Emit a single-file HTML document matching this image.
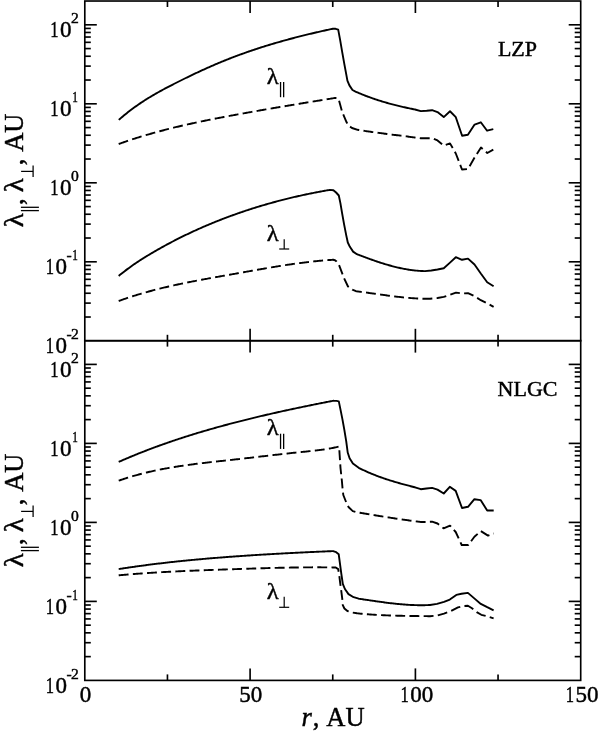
<!DOCTYPE html>
<html><head><meta charset="utf-8"><style>
html,body{margin:0;padding:0;background:#fff;}
svg{display:block;will-change:transform;}
text{font-family:"Liberation Serif",serif;fill:#000;stroke:#000;stroke-width:0.45px;}
</style></head><body>
<svg width="600" height="733" viewBox="0 0 600 733">
<rect width="600" height="733" fill="#fff"/>
<g stroke="#000" fill="none" stroke-linecap="butt">
<rect x="84.80" y="1.02" width="495.90" height="339.78" fill="none" stroke-width="1.65"/>
<rect x="84.80" y="340.62" width="495.90" height="339.78" fill="none" stroke-width="1.65"/>
<line x1="84.80" y1="317.02" x2="90.80" y2="317.02" stroke-width="1.65"/>
<line x1="580.70" y1="317.02" x2="574.70" y2="317.02" stroke-width="1.65"/>
<line x1="84.80" y1="303.11" x2="90.80" y2="303.11" stroke-width="1.65"/>
<line x1="580.70" y1="303.11" x2="574.70" y2="303.11" stroke-width="1.65"/>
<line x1="84.80" y1="293.24" x2="90.80" y2="293.24" stroke-width="1.65"/>
<line x1="580.70" y1="293.24" x2="574.70" y2="293.24" stroke-width="1.65"/>
<line x1="84.80" y1="285.58" x2="90.80" y2="285.58" stroke-width="1.65"/>
<line x1="580.70" y1="285.58" x2="574.70" y2="285.58" stroke-width="1.65"/>
<line x1="84.80" y1="279.33" x2="90.80" y2="279.33" stroke-width="1.65"/>
<line x1="580.70" y1="279.33" x2="574.70" y2="279.33" stroke-width="1.65"/>
<line x1="84.80" y1="274.04" x2="90.80" y2="274.04" stroke-width="1.65"/>
<line x1="580.70" y1="274.04" x2="574.70" y2="274.04" stroke-width="1.65"/>
<line x1="84.80" y1="269.46" x2="90.80" y2="269.46" stroke-width="1.65"/>
<line x1="580.70" y1="269.46" x2="574.70" y2="269.46" stroke-width="1.65"/>
<line x1="84.80" y1="265.41" x2="90.80" y2="265.41" stroke-width="1.65"/>
<line x1="580.70" y1="265.41" x2="574.70" y2="265.41" stroke-width="1.65"/>
<line x1="84.80" y1="261.80" x2="96.80" y2="261.80" stroke-width="1.65"/>
<line x1="580.70" y1="261.80" x2="568.70" y2="261.80" stroke-width="1.65"/>
<line x1="84.80" y1="238.02" x2="90.80" y2="238.02" stroke-width="1.65"/>
<line x1="580.70" y1="238.02" x2="574.70" y2="238.02" stroke-width="1.65"/>
<line x1="84.80" y1="224.11" x2="90.80" y2="224.11" stroke-width="1.65"/>
<line x1="580.70" y1="224.11" x2="574.70" y2="224.11" stroke-width="1.65"/>
<line x1="84.80" y1="214.24" x2="90.80" y2="214.24" stroke-width="1.65"/>
<line x1="580.70" y1="214.24" x2="574.70" y2="214.24" stroke-width="1.65"/>
<line x1="84.80" y1="206.58" x2="90.80" y2="206.58" stroke-width="1.65"/>
<line x1="580.70" y1="206.58" x2="574.70" y2="206.58" stroke-width="1.65"/>
<line x1="84.80" y1="200.33" x2="90.80" y2="200.33" stroke-width="1.65"/>
<line x1="580.70" y1="200.33" x2="574.70" y2="200.33" stroke-width="1.65"/>
<line x1="84.80" y1="195.04" x2="90.80" y2="195.04" stroke-width="1.65"/>
<line x1="580.70" y1="195.04" x2="574.70" y2="195.04" stroke-width="1.65"/>
<line x1="84.80" y1="190.46" x2="90.80" y2="190.46" stroke-width="1.65"/>
<line x1="580.70" y1="190.46" x2="574.70" y2="190.46" stroke-width="1.65"/>
<line x1="84.80" y1="186.41" x2="90.80" y2="186.41" stroke-width="1.65"/>
<line x1="580.70" y1="186.41" x2="574.70" y2="186.41" stroke-width="1.65"/>
<line x1="84.80" y1="182.80" x2="96.80" y2="182.80" stroke-width="1.65"/>
<line x1="580.70" y1="182.80" x2="568.70" y2="182.80" stroke-width="1.65"/>
<line x1="84.80" y1="159.02" x2="90.80" y2="159.02" stroke-width="1.65"/>
<line x1="580.70" y1="159.02" x2="574.70" y2="159.02" stroke-width="1.65"/>
<line x1="84.80" y1="145.11" x2="90.80" y2="145.11" stroke-width="1.65"/>
<line x1="580.70" y1="145.11" x2="574.70" y2="145.11" stroke-width="1.65"/>
<line x1="84.80" y1="135.24" x2="90.80" y2="135.24" stroke-width="1.65"/>
<line x1="580.70" y1="135.24" x2="574.70" y2="135.24" stroke-width="1.65"/>
<line x1="84.80" y1="127.58" x2="90.80" y2="127.58" stroke-width="1.65"/>
<line x1="580.70" y1="127.58" x2="574.70" y2="127.58" stroke-width="1.65"/>
<line x1="84.80" y1="121.33" x2="90.80" y2="121.33" stroke-width="1.65"/>
<line x1="580.70" y1="121.33" x2="574.70" y2="121.33" stroke-width="1.65"/>
<line x1="84.80" y1="116.04" x2="90.80" y2="116.04" stroke-width="1.65"/>
<line x1="580.70" y1="116.04" x2="574.70" y2="116.04" stroke-width="1.65"/>
<line x1="84.80" y1="111.46" x2="90.80" y2="111.46" stroke-width="1.65"/>
<line x1="580.70" y1="111.46" x2="574.70" y2="111.46" stroke-width="1.65"/>
<line x1="84.80" y1="107.41" x2="90.80" y2="107.41" stroke-width="1.65"/>
<line x1="580.70" y1="107.41" x2="574.70" y2="107.41" stroke-width="1.65"/>
<line x1="84.80" y1="103.80" x2="96.80" y2="103.80" stroke-width="1.65"/>
<line x1="580.70" y1="103.80" x2="568.70" y2="103.80" stroke-width="1.65"/>
<line x1="84.80" y1="80.02" x2="90.80" y2="80.02" stroke-width="1.65"/>
<line x1="580.70" y1="80.02" x2="574.70" y2="80.02" stroke-width="1.65"/>
<line x1="84.80" y1="66.11" x2="90.80" y2="66.11" stroke-width="1.65"/>
<line x1="580.70" y1="66.11" x2="574.70" y2="66.11" stroke-width="1.65"/>
<line x1="84.80" y1="56.24" x2="90.80" y2="56.24" stroke-width="1.65"/>
<line x1="580.70" y1="56.24" x2="574.70" y2="56.24" stroke-width="1.65"/>
<line x1="84.80" y1="48.58" x2="90.80" y2="48.58" stroke-width="1.65"/>
<line x1="580.70" y1="48.58" x2="574.70" y2="48.58" stroke-width="1.65"/>
<line x1="84.80" y1="42.33" x2="90.80" y2="42.33" stroke-width="1.65"/>
<line x1="580.70" y1="42.33" x2="574.70" y2="42.33" stroke-width="1.65"/>
<line x1="84.80" y1="37.04" x2="90.80" y2="37.04" stroke-width="1.65"/>
<line x1="580.70" y1="37.04" x2="574.70" y2="37.04" stroke-width="1.65"/>
<line x1="84.80" y1="32.46" x2="90.80" y2="32.46" stroke-width="1.65"/>
<line x1="580.70" y1="32.46" x2="574.70" y2="32.46" stroke-width="1.65"/>
<line x1="84.80" y1="28.41" x2="90.80" y2="28.41" stroke-width="1.65"/>
<line x1="580.70" y1="28.41" x2="574.70" y2="28.41" stroke-width="1.65"/>
<line x1="84.80" y1="24.80" x2="96.80" y2="24.80" stroke-width="1.65"/>
<line x1="580.70" y1="24.80" x2="568.70" y2="24.80" stroke-width="1.65"/>
<line x1="84.80" y1="656.62" x2="90.80" y2="656.62" stroke-width="1.65"/>
<line x1="580.70" y1="656.62" x2="574.70" y2="656.62" stroke-width="1.65"/>
<line x1="84.80" y1="642.71" x2="90.80" y2="642.71" stroke-width="1.65"/>
<line x1="580.70" y1="642.71" x2="574.70" y2="642.71" stroke-width="1.65"/>
<line x1="84.80" y1="632.84" x2="90.80" y2="632.84" stroke-width="1.65"/>
<line x1="580.70" y1="632.84" x2="574.70" y2="632.84" stroke-width="1.65"/>
<line x1="84.80" y1="625.18" x2="90.80" y2="625.18" stroke-width="1.65"/>
<line x1="580.70" y1="625.18" x2="574.70" y2="625.18" stroke-width="1.65"/>
<line x1="84.80" y1="618.93" x2="90.80" y2="618.93" stroke-width="1.65"/>
<line x1="580.70" y1="618.93" x2="574.70" y2="618.93" stroke-width="1.65"/>
<line x1="84.80" y1="613.64" x2="90.80" y2="613.64" stroke-width="1.65"/>
<line x1="580.70" y1="613.64" x2="574.70" y2="613.64" stroke-width="1.65"/>
<line x1="84.80" y1="609.06" x2="90.80" y2="609.06" stroke-width="1.65"/>
<line x1="580.70" y1="609.06" x2="574.70" y2="609.06" stroke-width="1.65"/>
<line x1="84.80" y1="605.01" x2="90.80" y2="605.01" stroke-width="1.65"/>
<line x1="580.70" y1="605.01" x2="574.70" y2="605.01" stroke-width="1.65"/>
<line x1="84.80" y1="601.40" x2="96.80" y2="601.40" stroke-width="1.65"/>
<line x1="580.70" y1="601.40" x2="568.70" y2="601.40" stroke-width="1.65"/>
<line x1="84.80" y1="577.62" x2="90.80" y2="577.62" stroke-width="1.65"/>
<line x1="580.70" y1="577.62" x2="574.70" y2="577.62" stroke-width="1.65"/>
<line x1="84.80" y1="563.71" x2="90.80" y2="563.71" stroke-width="1.65"/>
<line x1="580.70" y1="563.71" x2="574.70" y2="563.71" stroke-width="1.65"/>
<line x1="84.80" y1="553.84" x2="90.80" y2="553.84" stroke-width="1.65"/>
<line x1="580.70" y1="553.84" x2="574.70" y2="553.84" stroke-width="1.65"/>
<line x1="84.80" y1="546.18" x2="90.80" y2="546.18" stroke-width="1.65"/>
<line x1="580.70" y1="546.18" x2="574.70" y2="546.18" stroke-width="1.65"/>
<line x1="84.80" y1="539.93" x2="90.80" y2="539.93" stroke-width="1.65"/>
<line x1="580.70" y1="539.93" x2="574.70" y2="539.93" stroke-width="1.65"/>
<line x1="84.80" y1="534.64" x2="90.80" y2="534.64" stroke-width="1.65"/>
<line x1="580.70" y1="534.64" x2="574.70" y2="534.64" stroke-width="1.65"/>
<line x1="84.80" y1="530.06" x2="90.80" y2="530.06" stroke-width="1.65"/>
<line x1="580.70" y1="530.06" x2="574.70" y2="530.06" stroke-width="1.65"/>
<line x1="84.80" y1="526.01" x2="90.80" y2="526.01" stroke-width="1.65"/>
<line x1="580.70" y1="526.01" x2="574.70" y2="526.01" stroke-width="1.65"/>
<line x1="84.80" y1="522.40" x2="96.80" y2="522.40" stroke-width="1.65"/>
<line x1="580.70" y1="522.40" x2="568.70" y2="522.40" stroke-width="1.65"/>
<line x1="84.80" y1="498.62" x2="90.80" y2="498.62" stroke-width="1.65"/>
<line x1="580.70" y1="498.62" x2="574.70" y2="498.62" stroke-width="1.65"/>
<line x1="84.80" y1="484.71" x2="90.80" y2="484.71" stroke-width="1.65"/>
<line x1="580.70" y1="484.71" x2="574.70" y2="484.71" stroke-width="1.65"/>
<line x1="84.80" y1="474.84" x2="90.80" y2="474.84" stroke-width="1.65"/>
<line x1="580.70" y1="474.84" x2="574.70" y2="474.84" stroke-width="1.65"/>
<line x1="84.80" y1="467.18" x2="90.80" y2="467.18" stroke-width="1.65"/>
<line x1="580.70" y1="467.18" x2="574.70" y2="467.18" stroke-width="1.65"/>
<line x1="84.80" y1="460.93" x2="90.80" y2="460.93" stroke-width="1.65"/>
<line x1="580.70" y1="460.93" x2="574.70" y2="460.93" stroke-width="1.65"/>
<line x1="84.80" y1="455.64" x2="90.80" y2="455.64" stroke-width="1.65"/>
<line x1="580.70" y1="455.64" x2="574.70" y2="455.64" stroke-width="1.65"/>
<line x1="84.80" y1="451.06" x2="90.80" y2="451.06" stroke-width="1.65"/>
<line x1="580.70" y1="451.06" x2="574.70" y2="451.06" stroke-width="1.65"/>
<line x1="84.80" y1="447.01" x2="90.80" y2="447.01" stroke-width="1.65"/>
<line x1="580.70" y1="447.01" x2="574.70" y2="447.01" stroke-width="1.65"/>
<line x1="84.80" y1="443.40" x2="96.80" y2="443.40" stroke-width="1.65"/>
<line x1="580.70" y1="443.40" x2="568.70" y2="443.40" stroke-width="1.65"/>
<line x1="84.80" y1="419.62" x2="90.80" y2="419.62" stroke-width="1.65"/>
<line x1="580.70" y1="419.62" x2="574.70" y2="419.62" stroke-width="1.65"/>
<line x1="84.80" y1="405.71" x2="90.80" y2="405.71" stroke-width="1.65"/>
<line x1="580.70" y1="405.71" x2="574.70" y2="405.71" stroke-width="1.65"/>
<line x1="84.80" y1="395.84" x2="90.80" y2="395.84" stroke-width="1.65"/>
<line x1="580.70" y1="395.84" x2="574.70" y2="395.84" stroke-width="1.65"/>
<line x1="84.80" y1="388.18" x2="90.80" y2="388.18" stroke-width="1.65"/>
<line x1="580.70" y1="388.18" x2="574.70" y2="388.18" stroke-width="1.65"/>
<line x1="84.80" y1="381.93" x2="90.80" y2="381.93" stroke-width="1.65"/>
<line x1="580.70" y1="381.93" x2="574.70" y2="381.93" stroke-width="1.65"/>
<line x1="84.80" y1="376.64" x2="90.80" y2="376.64" stroke-width="1.65"/>
<line x1="580.70" y1="376.64" x2="574.70" y2="376.64" stroke-width="1.65"/>
<line x1="84.80" y1="372.06" x2="90.80" y2="372.06" stroke-width="1.65"/>
<line x1="580.70" y1="372.06" x2="574.70" y2="372.06" stroke-width="1.65"/>
<line x1="84.80" y1="368.01" x2="90.80" y2="368.01" stroke-width="1.65"/>
<line x1="580.70" y1="368.01" x2="574.70" y2="368.01" stroke-width="1.65"/>
<line x1="84.80" y1="364.40" x2="96.80" y2="364.40" stroke-width="1.65"/>
<line x1="580.70" y1="364.40" x2="568.70" y2="364.40" stroke-width="1.65"/>
<line x1="167.45" y1="1.02" x2="167.45" y2="7.02" stroke-width="1.65"/>
<line x1="167.45" y1="340.80" x2="167.45" y2="334.80" stroke-width="1.65"/>
<line x1="250.10" y1="1.02" x2="250.10" y2="13.02" stroke-width="1.65"/>
<line x1="250.10" y1="340.80" x2="250.10" y2="328.80" stroke-width="1.65"/>
<line x1="332.75" y1="1.02" x2="332.75" y2="7.02" stroke-width="1.65"/>
<line x1="332.75" y1="340.80" x2="332.75" y2="334.80" stroke-width="1.65"/>
<line x1="415.40" y1="1.02" x2="415.40" y2="13.02" stroke-width="1.65"/>
<line x1="415.40" y1="340.80" x2="415.40" y2="328.80" stroke-width="1.65"/>
<line x1="498.05" y1="1.02" x2="498.05" y2="7.02" stroke-width="1.65"/>
<line x1="498.05" y1="340.80" x2="498.05" y2="334.80" stroke-width="1.65"/>
<line x1="167.45" y1="340.62" x2="167.45" y2="346.62" stroke-width="1.65"/>
<line x1="167.45" y1="680.40" x2="167.45" y2="674.40" stroke-width="1.65"/>
<line x1="250.10" y1="340.62" x2="250.10" y2="352.62" stroke-width="1.65"/>
<line x1="250.10" y1="680.40" x2="250.10" y2="668.40" stroke-width="1.65"/>
<line x1="332.75" y1="340.62" x2="332.75" y2="346.62" stroke-width="1.65"/>
<line x1="332.75" y1="680.40" x2="332.75" y2="674.40" stroke-width="1.65"/>
<line x1="415.40" y1="340.62" x2="415.40" y2="352.62" stroke-width="1.65"/>
<line x1="415.40" y1="680.40" x2="415.40" y2="668.40" stroke-width="1.65"/>
<line x1="498.05" y1="340.62" x2="498.05" y2="346.62" stroke-width="1.65"/>
<line x1="498.05" y1="680.40" x2="498.05" y2="674.40" stroke-width="1.65"/>
<path d="M118.80,119.89 L119.80,119.01 L120.80,118.14 L121.80,117.28 L122.80,116.43 L123.80,115.59 L124.80,114.77 L125.80,113.95 L126.80,113.15 L127.80,112.36 L128.80,111.57 L129.80,110.80 L130.80,110.04 L131.80,109.28 L132.80,108.54 L133.80,107.81 L134.80,107.08 L135.80,106.36 L136.80,105.66 L137.80,104.96 L138.80,104.27 L139.80,103.59 L140.80,102.91 L141.80,102.25 L142.80,101.59 L143.80,100.94 L144.80,100.30 L145.80,99.66 L146.80,99.03 L147.80,98.41 L148.80,97.80 L149.80,97.19 L150.80,96.58 L151.80,95.99 L152.80,95.40 L153.80,94.81 L154.80,94.23 L155.80,93.66 L156.80,93.09 L157.80,92.52 L158.80,91.96 L159.80,91.41 L160.80,90.86 L161.80,90.31 L162.80,89.77 L163.80,89.23 L164.80,88.70 L165.80,88.17 L166.80,87.64 L167.80,87.11 L168.80,86.59 L169.80,86.07 L170.80,85.56 L171.80,85.04 L172.80,84.53 L173.80,84.02 L174.80,83.51 L175.80,83.00 L176.80,82.50 L177.80,81.99 L178.80,81.49 L179.80,80.99 L180.80,80.49 L181.80,79.99 L182.80,79.50 L183.80,79.00 L184.80,78.51 L185.80,78.02 L186.80,77.53 L187.80,77.05 L188.80,76.56 L189.80,76.08 L190.80,75.60 L191.80,75.12 L192.80,74.64 L193.80,74.17 L194.80,73.69 L195.80,73.22 L196.80,72.75 L197.80,72.28 L198.80,71.82 L199.80,71.35 L200.80,70.89 L201.80,70.43 L202.80,69.98 L203.80,69.52 L204.80,69.07 L205.80,68.62 L206.80,68.17 L207.80,67.72 L208.80,67.28 L209.80,66.84 L210.80,66.40 L211.80,65.96 L212.80,65.53 L213.80,65.09 L214.80,64.66 L215.80,64.24 L216.80,63.81 L217.80,63.39 L218.80,62.97 L219.80,62.55 L220.80,62.13 L221.80,61.72 L222.80,61.31 L223.80,60.90 L224.80,60.50 L225.80,60.09 L226.80,59.69 L227.80,59.30 L228.80,58.90 L229.80,58.51 L230.80,58.12 L231.80,57.73 L232.80,57.35 L233.80,56.97 L234.80,56.59 L235.80,56.21 L236.80,55.83 L237.80,55.46 L238.80,55.09 L239.80,54.72 L240.80,54.36 L241.80,53.99 L242.80,53.63 L243.80,53.28 L244.80,52.92 L245.80,52.57 L246.80,52.21 L247.80,51.86 L248.80,51.52 L249.80,51.17 L250.80,50.83 L251.80,50.49 L252.80,50.15 L253.80,49.82 L254.80,49.48 L255.80,49.15 L256.80,48.82 L257.80,48.49 L258.80,48.17 L259.80,47.84 L260.80,47.52 L261.80,47.20 L262.80,46.89 L263.80,46.57 L264.80,46.26 L265.80,45.95 L266.80,45.64 L267.80,45.33 L268.80,45.02 L269.80,44.72 L270.80,44.42 L271.80,44.12 L272.80,43.82 L273.80,43.52 L274.80,43.23 L275.80,42.94 L276.80,42.65 L277.80,42.36 L278.80,42.07 L279.80,41.79 L280.80,41.50 L281.80,41.22 L282.80,40.94 L283.80,40.66 L284.80,40.38 L285.80,40.11 L286.80,39.83 L287.80,39.56 L288.80,39.29 L289.80,39.02 L290.80,38.76 L291.80,38.49 L292.80,38.23 L293.80,37.96 L294.80,37.70 L295.80,37.44 L296.80,37.18 L297.80,36.93 L298.80,36.67 L299.80,36.42 L300.80,36.16 L301.80,35.91 L302.80,35.66 L303.80,35.42 L304.80,35.17 L305.80,34.92 L306.80,34.68 L307.80,34.43 L308.80,34.19 L309.80,33.95 L310.80,33.71 L311.80,33.47 L312.80,33.24 L313.80,33.00 L314.80,32.77 L315.80,32.53 L316.80,32.30 L317.80,32.07 L318.80,31.84 L319.80,31.61 L320.80,31.38 L321.80,31.16 L322.80,30.93 L323.80,30.71 L324.80,30.48 L325.80,30.26 L326.80,30.04 L327.80,29.82 L328.80,29.60 L329.80,29.38 L330.80,29.16 L331.80,28.95 L332.80,28.73 L333.40,28.60 L333.40,28.60 L335.60,28.80 L338.20,29.70 L340.20,40.40 L342.30,52.60 L344.30,63.90 L346.40,75.20 L347.40,80.60 L349.40,85.40 L352.50,90.00 L355.50,91.60 L355.50,91.60 L356.50,92.04 L357.50,92.47 L358.50,92.90 L359.50,93.32 L360.50,93.74 L361.50,94.15 L362.50,94.56 L363.50,94.95 L364.50,95.35 L365.50,95.74 L366.50,96.12 L367.50,96.50 L368.50,96.87 L369.50,97.23 L370.50,97.60 L371.50,97.95 L372.50,98.30 L373.50,98.65 L374.50,98.99 L375.50,99.33 L376.50,99.66 L377.50,99.99 L378.50,100.31 L379.50,100.63 L380.50,100.94 L381.50,101.25 L382.50,101.55 L383.50,101.86 L384.50,102.15 L385.50,102.44 L386.50,102.73 L387.50,103.02 L388.50,103.30 L389.50,103.57 L390.50,103.84 L391.50,104.11 L392.50,104.38 L393.50,104.64 L394.50,104.90 L395.50,105.15 L396.50,105.40 L397.50,105.65 L398.50,105.89 L399.50,106.13 L400.50,106.37 L401.50,106.61 L402.50,106.84 L403.50,107.07 L404.50,107.29 L405.50,107.51 L406.50,107.73 L407.50,107.95 L408.50,108.17 L409.50,108.38 L410.50,108.59 L411.50,108.80 L412.50,109.00 L413.50,109.20 L414.50,109.40 L415.00,109.50 L415.00,109.50 L420.80,111.10 L426.70,110.80 L432.10,110.20 L437.50,112.10 L443.75,117.10 L450.00,111.25 L455.80,117.20 L462.10,135.80 L467.90,134.80 L474.60,124.60 L480.80,122.30 L487.10,130.70 L493.30,129.20" stroke-width="1.9" stroke-linejoin="round"/>
<path d="M118.70,275.90 L119.70,275.08 L120.70,274.27 L121.70,273.47 L122.70,272.69 L123.70,271.91 L124.70,271.14 L125.70,270.38 L126.70,269.62 L127.70,268.88 L128.70,268.15 L129.70,267.42 L130.70,266.70 L131.70,265.99 L132.70,265.29 L133.70,264.59 L134.70,263.91 L135.70,263.22 L136.70,262.55 L137.70,261.88 L138.70,261.22 L139.70,260.57 L140.70,259.92 L141.70,259.28 L142.70,258.64 L143.70,258.01 L144.70,257.39 L145.70,256.77 L146.70,256.16 L147.70,255.55 L148.70,254.94 L149.70,254.34 L150.70,253.75 L151.70,253.15 L152.70,252.57 L153.70,251.98 L154.70,251.40 L155.70,250.82 L156.70,250.25 L157.70,249.68 L158.70,249.11 L159.70,248.55 L160.70,247.99 L161.70,247.43 L162.70,246.88 L163.70,246.32 L164.70,245.78 L165.70,245.23 L166.70,244.69 L167.70,244.15 L168.70,243.62 L169.70,243.08 L170.70,242.55 L171.70,242.03 L172.70,241.50 L173.70,240.98 L174.70,240.47 L175.70,239.95 L176.70,239.44 L177.70,238.94 L178.70,238.43 L179.70,237.93 L180.70,237.43 L181.70,236.93 L182.70,236.44 L183.70,235.95 L184.70,235.46 L185.70,234.98 L186.70,234.50 L187.70,234.02 L188.70,233.54 L189.70,233.07 L190.70,232.60 L191.70,232.13 L192.70,231.67 L193.70,231.21 L194.70,230.75 L195.70,230.29 L196.70,229.84 L197.70,229.39 L198.70,228.94 L199.70,228.50 L200.70,228.05 L201.70,227.61 L202.70,227.18 L203.70,226.74 L204.70,226.31 L205.70,225.88 L206.70,225.46 L207.70,225.03 L208.70,224.61 L209.70,224.19 L210.70,223.78 L211.70,223.36 L212.70,222.95 L213.70,222.54 L214.70,222.14 L215.70,221.73 L216.70,221.33 L217.70,220.93 L218.70,220.54 L219.70,220.14 L220.70,219.75 L221.70,219.36 L222.70,218.97 L223.70,218.59 L224.70,218.21 L225.70,217.83 L226.70,217.45 L227.70,217.08 L228.70,216.70 L229.70,216.33 L230.70,215.97 L231.70,215.60 L232.70,215.24 L233.70,214.88 L234.70,214.52 L235.70,214.16 L236.70,213.81 L237.70,213.46 L238.70,213.11 L239.70,212.76 L240.70,212.41 L241.70,212.07 L242.70,211.73 L243.70,211.39 L244.70,211.06 L245.70,210.72 L246.70,210.39 L247.70,210.06 L248.70,209.74 L249.70,209.41 L250.70,209.09 L251.70,208.77 L252.70,208.45 L253.70,208.13 L254.70,207.82 L255.70,207.51 L256.70,207.20 L257.70,206.89 L258.70,206.59 L259.70,206.28 L260.70,205.98 L261.70,205.68 L262.70,205.39 L263.70,205.09 L264.70,204.80 L265.70,204.51 L266.70,204.22 L267.70,203.93 L268.70,203.65 L269.70,203.37 L270.70,203.09 L271.70,202.81 L272.70,202.53 L273.70,202.26 L274.70,201.99 L275.70,201.72 L276.70,201.45 L277.70,201.18 L278.70,200.92 L279.70,200.65 L280.70,200.39 L281.70,200.14 L282.70,199.88 L283.70,199.62 L284.70,199.37 L285.70,199.12 L286.70,198.87 L287.70,198.63 L288.70,198.38 L289.70,198.14 L290.70,197.90 L291.70,197.66 L292.70,197.42 L293.70,197.19 L294.70,196.95 L295.70,196.72 L296.70,196.49 L297.70,196.26 L298.70,196.04 L299.70,195.81 L300.70,195.59 L301.70,195.37 L302.70,195.15 L303.70,194.93 L304.70,194.72 L305.70,194.50 L306.70,194.29 L307.70,194.08 L308.70,193.87 L309.70,193.67 L310.70,193.46 L311.70,193.26 L312.70,193.06 L313.70,192.86 L314.70,192.66 L315.70,192.47 L316.70,192.27 L317.70,192.08 L318.70,191.89 L319.70,191.70 L320.70,191.51 L321.70,191.32 L322.70,191.14 L323.70,190.96 L324.70,190.78 L325.70,190.60 L326.70,190.42 L327.70,190.24 L328.70,190.07 L329.70,189.90 L329.70,189.90 L333.40,190.20 L336.10,192.50 L338.80,195.50 L340.40,203.10 L342.00,212.70 L344.10,224.40 L346.20,235.10 L347.80,242.50 L349.90,246.80 L353.10,251.60 L356.90,254.20 L356.90,254.20 L357.90,254.58 L358.90,254.97 L359.90,255.35 L360.90,255.73 L361.90,256.10 L362.90,256.48 L363.90,256.85 L364.90,257.22 L365.90,257.59 L366.90,257.96 L367.90,258.33 L368.90,258.69 L369.90,259.05 L370.90,259.41 L371.90,259.76 L372.90,260.11 L373.90,260.46 L374.90,260.80 L375.90,261.15 L376.90,261.48 L377.90,261.82 L378.90,262.15 L379.90,262.48 L380.90,262.80 L381.90,263.12 L382.90,263.43 L383.90,263.74 L384.90,264.05 L385.90,264.35 L386.90,264.64 L387.90,264.93 L388.90,265.22 L389.90,265.50 L390.90,265.78 L391.90,266.05 L392.90,266.31 L393.90,266.57 L394.90,266.82 L395.90,267.07 L396.90,267.31 L397.90,267.55 L398.90,267.77 L399.90,268.00 L400.90,268.21 L401.90,268.42 L402.90,268.62 L403.90,268.82 L404.90,269.01 L405.90,269.19 L406.90,269.36 L407.90,269.53 L408.90,269.69 L409.90,269.84 L410.90,269.98 L411.90,270.12 L412.90,270.25 L413.90,270.37 L414.90,270.48 L415.90,270.58 L416.90,270.67 L417.90,270.76 L418.90,270.84 L419.90,270.90 L420.90,270.96 L421.90,271.01 L422.90,271.05 L423.90,271.08 L424.90,271.10 L425.00,271.10 L425.00,271.10 L431.30,270.50 L437.50,269.50 L443.75,268.20 L450.00,262.60 L455.80,257.20 L462.00,259.80 L468.00,258.60 L474.50,264.50 L480.80,273.50 L487.20,282.20 L493.60,286.30" stroke-width="1.9" stroke-linejoin="round"/>
<path d="M118.70,461.89 L119.70,461.45 L120.70,461.01 L121.70,460.58 L122.70,460.14 L123.70,459.71 L124.70,459.28 L125.70,458.85 L126.70,458.43 L127.70,458.01 L128.70,457.59 L129.70,457.17 L130.70,456.75 L131.70,456.34 L132.70,455.92 L133.70,455.51 L134.70,455.10 L135.70,454.70 L136.70,454.29 L137.70,453.89 L138.70,453.49 L139.70,453.09 L140.70,452.69 L141.70,452.30 L142.70,451.91 L143.70,451.52 L144.70,451.13 L145.70,450.74 L146.70,450.35 L147.70,449.97 L148.70,449.59 L149.70,449.21 L150.70,448.83 L151.70,448.46 L152.70,448.08 L153.70,447.71 L154.70,447.34 L155.70,446.97 L156.70,446.60 L157.70,446.24 L158.70,445.87 L159.70,445.51 L160.70,445.15 L161.70,444.79 L162.70,444.44 L163.70,444.08 L164.70,443.73 L165.70,443.38 L166.70,443.03 L167.70,442.68 L168.70,442.33 L169.70,441.99 L170.70,441.65 L171.70,441.31 L172.70,440.97 L173.70,440.63 L174.70,440.29 L175.70,439.96 L176.70,439.62 L177.70,439.29 L178.70,438.96 L179.70,438.63 L180.70,438.30 L181.70,437.98 L182.70,437.65 L183.70,437.33 L184.70,437.01 L185.70,436.69 L186.70,436.37 L187.70,436.05 L188.70,435.74 L189.70,435.42 L190.70,435.11 L191.70,434.80 L192.70,434.49 L193.70,434.18 L194.70,433.88 L195.70,433.57 L196.70,433.27 L197.70,432.96 L198.70,432.66 L199.70,432.36 L200.70,432.06 L201.70,431.77 L202.70,431.47 L203.70,431.17 L204.70,430.88 L205.70,430.59 L206.70,430.30 L207.70,430.01 L208.70,429.72 L209.70,429.43 L210.70,429.15 L211.70,428.86 L212.70,428.58 L213.70,428.29 L214.70,428.01 L215.70,427.73 L216.70,427.45 L217.70,427.18 L218.70,426.90 L219.70,426.62 L220.70,426.35 L221.70,426.08 L222.70,425.80 L223.70,425.53 L224.70,425.26 L225.70,424.99 L226.70,424.72 L227.70,424.46 L228.70,424.19 L229.70,423.93 L230.70,423.66 L231.70,423.40 L232.70,423.14 L233.70,422.88 L234.70,422.62 L235.70,422.36 L236.70,422.10 L237.70,421.84 L238.70,421.59 L239.70,421.33 L240.70,421.08 L241.70,420.82 L242.70,420.57 L243.70,420.32 L244.70,420.07 L245.70,419.82 L246.70,419.57 L247.70,419.32 L248.70,419.08 L249.70,418.83 L250.70,418.59 L251.70,418.34 L252.70,418.10 L253.70,417.86 L254.70,417.61 L255.70,417.37 L256.70,417.13 L257.70,416.89 L258.70,416.65 L259.70,416.42 L260.70,416.18 L261.70,415.94 L262.70,415.71 L263.70,415.47 L264.70,415.24 L265.70,415.01 L266.70,414.78 L267.70,414.54 L268.70,414.31 L269.70,414.08 L270.70,413.86 L271.70,413.63 L272.70,413.40 L273.70,413.17 L274.70,412.95 L275.70,412.72 L276.70,412.50 L277.70,412.27 L278.70,412.05 L279.70,411.83 L280.70,411.61 L281.70,411.38 L282.70,411.16 L283.70,410.94 L284.70,410.73 L285.70,410.51 L286.70,410.29 L287.70,410.07 L288.70,409.86 L289.70,409.64 L290.70,409.42 L291.70,409.21 L292.70,409.00 L293.70,408.78 L294.70,408.57 L295.70,408.36 L296.70,408.15 L297.70,407.94 L298.70,407.73 L299.70,407.52 L300.70,407.31 L301.70,407.10 L302.70,406.89 L303.70,406.68 L304.70,406.48 L305.70,406.27 L306.70,406.06 L307.70,405.86 L308.70,405.65 L309.70,405.45 L310.70,405.25 L311.70,405.04 L312.70,404.84 L313.70,404.64 L314.70,404.44 L315.70,404.24 L316.70,404.03 L317.70,403.83 L318.70,403.63 L319.70,403.44 L320.70,403.24 L321.70,403.04 L322.70,402.84 L323.70,402.64 L324.70,402.45 L325.70,402.25 L326.70,402.05 L327.70,401.86 L328.70,401.66 L329.70,401.47 L330.70,401.27 L331.70,401.08 L332.70,400.88 L333.70,400.69 L333.70,400.70 L336.50,400.90 L338.80,401.40 L340.50,409.60 L342.40,419.10 L344.30,429.60 L346.20,441.10 L347.70,452.50 L349.60,458.30 L352.90,463.50 L358.70,467.80 L358.70,467.80 L359.70,468.31 L360.70,468.81 L361.70,469.30 L362.70,469.78 L363.70,470.25 L364.70,470.72 L365.70,471.18 L366.70,471.63 L367.70,472.07 L368.70,472.51 L369.70,472.94 L370.70,473.36 L371.70,473.78 L372.70,474.19 L373.70,474.59 L374.70,474.99 L375.70,475.38 L376.70,475.77 L377.70,476.15 L378.70,476.52 L379.70,476.89 L380.70,477.25 L381.70,477.61 L382.70,477.96 L383.70,478.30 L384.70,478.65 L385.70,478.98 L386.70,479.31 L387.70,479.64 L388.70,479.96 L389.70,480.28 L390.70,480.60 L391.70,480.91 L392.70,481.21 L393.70,481.52 L394.70,481.81 L395.70,482.11 L396.70,482.40 L397.70,482.69 L398.70,482.98 L399.70,483.26 L400.70,483.54 L401.70,483.81 L402.70,484.09 L403.70,484.36 L404.70,484.63 L405.70,484.90 L406.70,485.16 L407.70,485.43 L408.70,485.69 L409.70,485.95 L410.70,486.21 L411.70,486.46 L412.70,486.72 L413.70,486.97 L414.70,487.23 L415.00,487.30 L415.00,487.30 L420.80,489.20 L426.50,488.50 L432.10,487.90 L437.50,489.60 L443.75,493.50 L449.80,486.80 L455.70,490.90 L462.00,508.00 L468.00,506.80 L474.40,499.20 L480.60,500.10 L487.20,510.50 L493.70,510.50" stroke-width="1.9" stroke-linejoin="round"/>
<path d="M118.70,569.09 L119.70,568.93 L120.70,568.78 L121.70,568.62 L122.70,568.47 L123.70,568.31 L124.70,568.16 L125.70,568.01 L126.70,567.86 L127.70,567.71 L128.70,567.56 L129.70,567.41 L130.70,567.27 L131.70,567.12 L132.70,566.98 L133.70,566.84 L134.70,566.69 L135.70,566.55 L136.70,566.41 L137.70,566.27 L138.70,566.13 L139.70,566.00 L140.70,565.86 L141.70,565.72 L142.70,565.59 L143.70,565.45 L144.70,565.32 L145.70,565.19 L146.70,565.06 L147.70,564.93 L148.70,564.80 L149.70,564.67 L150.70,564.54 L151.70,564.42 L152.70,564.29 L153.70,564.17 L154.70,564.04 L155.70,563.92 L156.70,563.80 L157.70,563.68 L158.70,563.55 L159.70,563.44 L160.70,563.32 L161.70,563.20 L162.70,563.08 L163.70,562.96 L164.70,562.85 L165.70,562.73 L166.70,562.62 L167.70,562.51 L168.70,562.39 L169.70,562.28 L170.70,562.17 L171.70,562.06 L172.70,561.95 L173.70,561.84 L174.70,561.74 L175.70,561.63 L176.70,561.52 L177.70,561.42 L178.70,561.31 L179.70,561.21 L180.70,561.11 L181.70,561.00 L182.70,560.90 L183.70,560.80 L184.70,560.70 L185.70,560.60 L186.70,560.50 L187.70,560.40 L188.70,560.30 L189.70,560.21 L190.70,560.11 L191.70,560.01 L192.70,559.92 L193.70,559.83 L194.70,559.73 L195.70,559.64 L196.70,559.55 L197.70,559.45 L198.70,559.36 L199.70,559.27 L200.70,559.18 L201.70,559.09 L202.70,559.01 L203.70,558.92 L204.70,558.83 L205.70,558.74 L206.70,558.66 L207.70,558.57 L208.70,558.49 L209.70,558.40 L210.70,558.32 L211.70,558.23 L212.70,558.15 L213.70,558.07 L214.70,557.99 L215.70,557.91 L216.70,557.83 L217.70,557.75 L218.70,557.67 L219.70,557.59 L220.70,557.51 L221.70,557.43 L222.70,557.35 L223.70,557.28 L224.70,557.20 L225.70,557.12 L226.70,557.05 L227.70,556.97 L228.70,556.90 L229.70,556.82 L230.70,556.75 L231.70,556.68 L232.70,556.60 L233.70,556.53 L234.70,556.46 L235.70,556.39 L236.70,556.32 L237.70,556.25 L238.70,556.18 L239.70,556.11 L240.70,556.04 L241.70,555.97 L242.70,555.90 L243.70,555.83 L244.70,555.76 L245.70,555.70 L246.70,555.63 L247.70,555.56 L248.70,555.50 L249.70,555.43 L250.70,555.37 L251.70,555.30 L252.70,555.24 L253.70,555.17 L254.70,555.11 L255.70,555.05 L256.70,554.98 L257.70,554.92 L258.70,554.86 L259.70,554.80 L260.70,554.73 L261.70,554.67 L262.70,554.61 L263.70,554.55 L264.70,554.49 L265.70,554.43 L266.70,554.37 L267.70,554.31 L268.70,554.26 L269.70,554.20 L270.70,554.14 L271.70,554.08 L272.70,554.03 L273.70,553.97 L274.70,553.91 L275.70,553.86 L276.70,553.80 L277.70,553.74 L278.70,553.69 L279.70,553.63 L280.70,553.58 L281.70,553.52 L282.70,553.47 L283.70,553.42 L284.70,553.36 L285.70,553.31 L286.70,553.26 L287.70,553.21 L288.70,553.15 L289.70,553.10 L290.70,553.05 L291.70,553.00 L292.70,552.95 L293.70,552.90 L294.70,552.85 L295.70,552.80 L296.70,552.75 L297.70,552.70 L298.70,552.65 L299.70,552.60 L300.70,552.55 L301.70,552.50 L302.70,552.45 L303.70,552.40 L304.70,552.36 L305.70,552.31 L306.70,552.26 L307.70,552.21 L308.70,552.17 L309.70,552.12 L310.70,552.07 L311.70,552.03 L312.70,551.98 L313.70,551.94 L314.70,551.89 L315.70,551.84 L316.70,551.80 L317.70,551.75 L318.70,551.71 L319.70,551.67 L320.70,551.62 L321.70,551.58 L322.70,551.53 L323.70,551.49 L324.70,551.45 L325.70,551.40 L326.70,551.36 L327.70,551.32 L328.70,551.28 L329.70,551.23 L330.70,551.19 L331.70,551.15 L332.70,551.11 L333.10,551.09 L333.10,551.10 L336.20,552.20 L338.70,554.20 L339.80,562.40 L341.30,573.70 L342.80,583.90 L344.90,589.00 L348.50,594.10 L353.60,597.20 L358.70,598.70 L358.70,598.70 L359.70,598.85 L360.70,598.99 L361.70,599.14 L362.70,599.29 L363.70,599.44 L364.70,599.59 L365.70,599.73 L366.70,599.88 L367.70,600.03 L368.70,600.18 L369.70,600.32 L370.70,600.47 L371.70,600.62 L372.70,600.76 L373.70,600.91 L374.70,601.05 L375.70,601.20 L376.70,601.34 L377.70,601.48 L378.70,601.62 L379.70,601.76 L380.70,601.90 L381.70,602.04 L382.70,602.17 L383.70,602.31 L384.70,602.44 L385.70,602.57 L386.70,602.70 L387.70,602.82 L388.70,602.95 L389.70,603.07 L390.70,603.19 L391.70,603.30 L392.70,603.42 L393.70,603.53 L394.70,603.64 L395.70,603.75 L396.70,603.85 L397.70,603.95 L398.70,604.05 L399.70,604.14 L400.70,604.23 L401.70,604.32 L402.70,604.40 L403.70,604.48 L404.70,604.56 L405.70,604.63 L406.70,604.70 L407.70,604.77 L408.70,604.83 L409.70,604.89 L410.70,604.94 L411.70,604.99 L412.70,605.03 L413.70,605.07 L414.70,605.11 L415.70,605.14 L416.70,605.16 L417.70,605.19 L418.70,605.20 L419.70,605.21 L420.70,605.22 L421.70,605.22 L422.70,605.21 L423.70,605.20 L424.70,605.18 L425.70,605.16 L426.70,605.13 L427.70,605.10 L428.70,605.06 L429.70,605.02 L430.00,605.00 L430.00,605.00 L437.00,603.90 L444.00,601.90 L449.80,599.60 L456.30,594.90 L461.50,593.80 L467.90,592.90 L474.30,598.40 L480.80,603.90 L487.20,607.20 L493.60,610.30" stroke-width="1.9" stroke-linejoin="round"/>
<path d="M118.70,143.99 L119.70,143.63 L120.70,143.28 L121.70,142.93 L122.70,142.58 L123.70,142.23 L124.70,141.89 L125.70,141.55 L126.70,141.21 L127.70,140.87 L128.70,140.54 L129.70,140.21 L130.70,139.88 L131.70,139.55 L132.70,139.22 L133.70,138.90 L134.70,138.58 L135.70,138.26 L136.70,137.95 L137.70,137.63 L138.70,137.32 L139.70,137.01 L140.70,136.71 L141.70,136.40 L142.70,136.10 L143.70,135.80 L144.70,135.50 L145.70,135.20 L146.70,134.91 L147.70,134.62 L148.70,134.33 L149.70,134.04 L150.70,133.75 L151.70,133.47 L152.70,133.19 L153.70,132.91 L154.70,132.63 L155.70,132.35 L156.70,132.08 L157.70,131.80 L158.70,131.53 L159.70,131.26 L160.70,131.00 L161.70,130.73 L162.70,130.47 L163.70,130.21 L164.70,129.95 L165.70,129.69 L166.70,129.43 L167.70,129.18 L168.70,128.92 L169.70,128.67 L170.70,128.42 L171.70,128.17 L172.70,127.93 L173.70,127.68 L174.70,127.44 L175.70,127.19 L176.70,126.95 L177.70,126.71 L178.70,126.48 L179.70,126.24 L180.70,126.01 L181.70,125.77 L182.70,125.54 L183.70,125.31 L184.70,125.08 L185.70,124.85 L186.70,124.63 L187.70,124.40 L188.70,124.18 L189.70,123.95 L190.70,123.73 L191.70,123.51 L192.70,123.29 L193.70,123.07 L194.70,122.86 L195.70,122.64 L196.70,122.43 L197.70,122.22 L198.70,122.00 L199.70,121.79 L200.70,121.58 L201.70,121.37 L202.70,121.17 L203.70,120.96 L204.70,120.75 L205.70,120.55 L206.70,120.34 L207.70,120.14 L208.70,119.94 L209.70,119.74 L210.70,119.54 L211.70,119.34 L212.70,119.14 L213.70,118.94 L214.70,118.75 L215.70,118.55 L216.70,118.36 L217.70,118.16 L218.70,117.97 L219.70,117.77 L220.70,117.58 L221.70,117.39 L222.70,117.20 L223.70,117.01 L224.70,116.82 L225.70,116.63 L226.70,116.44 L227.70,116.25 L228.70,116.07 L229.70,115.88 L230.70,115.69 L231.70,115.51 L232.70,115.32 L233.70,115.14 L234.70,114.95 L235.70,114.77 L236.70,114.59 L237.70,114.40 L238.70,114.22 L239.70,114.04 L240.70,113.86 L241.70,113.68 L242.70,113.49 L243.70,113.31 L244.70,113.13 L245.70,112.95 L246.70,112.77 L247.70,112.59 L248.70,112.42 L249.70,112.24 L250.70,112.06 L251.70,111.88 L252.70,111.70 L253.70,111.53 L254.70,111.35 L255.70,111.17 L256.70,111.00 L257.70,110.82 L258.70,110.65 L259.70,110.47 L260.70,110.30 L261.70,110.12 L262.70,109.95 L263.70,109.78 L264.70,109.60 L265.70,109.43 L266.70,109.26 L267.70,109.09 L268.70,108.91 L269.70,108.74 L270.70,108.57 L271.70,108.40 L272.70,108.23 L273.70,108.06 L274.70,107.89 L275.70,107.72 L276.70,107.55 L277.70,107.38 L278.70,107.21 L279.70,107.04 L280.70,106.87 L281.70,106.70 L282.70,106.53 L283.70,106.37 L284.70,106.20 L285.70,106.03 L286.70,105.86 L287.70,105.70 L288.70,105.53 L289.70,105.36 L290.70,105.20 L291.70,105.03 L292.70,104.86 L293.70,104.70 L294.70,104.53 L295.70,104.37 L296.70,104.20 L297.70,104.04 L298.70,103.87 L299.70,103.71 L300.70,103.54 L301.70,103.38 L302.70,103.21 L303.70,103.05 L304.70,102.88 L305.70,102.72 L306.70,102.56 L307.70,102.39 L308.70,102.23 L309.70,102.07 L310.70,101.90 L311.70,101.74 L312.70,101.58 L313.70,101.41 L314.70,101.25 L315.70,101.09 L316.70,100.93 L317.70,100.76 L318.70,100.60 L319.70,100.44 L320.70,100.28 L321.70,100.12 L322.70,99.95 L323.70,99.79 L324.70,99.63 L325.70,99.47 L326.70,99.31 L327.70,99.15 L328.70,98.99 L329.70,98.82 L330.70,98.66 L331.70,98.50 L332.70,98.34 L333.70,98.18 L334.70,98.02 L335.50,97.89 L335.50,97.90 L337.30,98.00 L338.80,99.80 L342.20,112.00 L346.60,122.30 L349.00,125.90 L352.00,128.00 L357.70,129.80 L357.70,129.80 L358.70,129.97 L359.70,130.13 L360.70,130.29 L361.70,130.45 L362.70,130.61 L363.70,130.76 L364.70,130.92 L365.70,131.07 L366.70,131.22 L367.70,131.37 L368.70,131.51 L369.70,131.66 L370.70,131.80 L371.70,131.95 L372.70,132.09 L373.70,132.23 L374.70,132.36 L375.70,132.50 L376.70,132.64 L377.70,132.77 L378.70,132.90 L379.70,133.04 L380.70,133.17 L381.70,133.30 L382.70,133.43 L383.70,133.56 L384.70,133.69 L385.70,133.81 L386.70,133.94 L387.70,134.07 L388.70,134.19 L389.70,134.32 L390.70,134.44 L391.70,134.57 L392.70,134.69 L393.70,134.82 L394.70,134.94 L395.70,135.06 L396.70,135.19 L397.70,135.31 L398.70,135.43 L399.70,135.56 L400.70,135.68 L401.70,135.81 L402.70,135.93 L403.70,136.06 L404.70,136.18 L405.70,136.31 L406.70,136.43 L407.70,136.56 L408.70,136.69 L409.70,136.82 L410.70,136.94 L411.70,137.07 L412.70,137.20 L413.70,137.34 L414.70,137.47 L415.70,137.60 L416.70,137.74 L417.70,137.87 L418.70,138.01 L419.70,138.15 L420.70,138.29 L420.80,138.30 L420.80,138.30 L426.70,138.30 L432.50,138.30 L437.50,140.40 L443.75,145.60 L450.00,143.40 L455.80,153.50 L462.00,169.50 L468.00,169.00 L474.60,157.50 L481.00,147.50 L487.30,153.00 L493.30,149.70" stroke-width="1.9" stroke-dasharray="9.9 4.3" stroke-linejoin="round"/>
<path d="M118.70,300.99 L119.70,300.63 L120.70,300.28 L121.70,299.92 L122.70,299.57 L123.70,299.22 L124.70,298.88 L125.70,298.54 L126.70,298.20 L127.70,297.87 L128.70,297.54 L129.70,297.21 L130.70,296.88 L131.70,296.56 L132.70,296.24 L133.70,295.93 L134.70,295.61 L135.70,295.30 L136.70,295.00 L137.70,294.69 L138.70,294.39 L139.70,294.09 L140.70,293.79 L141.70,293.50 L142.70,293.21 L143.70,292.92 L144.70,292.64 L145.70,292.36 L146.70,292.08 L147.70,291.80 L148.70,291.52 L149.70,291.25 L150.70,290.98 L151.70,290.71 L152.70,290.45 L153.70,290.19 L154.70,289.93 L155.70,289.67 L156.70,289.41 L157.70,289.16 L158.70,288.91 L159.70,288.66 L160.70,288.41 L161.70,288.17 L162.70,287.92 L163.70,287.68 L164.70,287.44 L165.70,287.21 L166.70,286.97 L167.70,286.74 L168.70,286.51 L169.70,286.28 L170.70,286.05 L171.70,285.83 L172.70,285.60 L173.70,285.38 L174.70,285.16 L175.70,284.94 L176.70,284.72 L177.70,284.51 L178.70,284.29 L179.70,284.08 L180.70,283.87 L181.70,283.66 L182.70,283.45 L183.70,283.25 L184.70,283.04 L185.70,282.84 L186.70,282.63 L187.70,282.43 L188.70,282.23 L189.70,282.03 L190.70,281.84 L191.70,281.64 L192.70,281.44 L193.70,281.25 L194.70,281.06 L195.70,280.86 L196.70,280.67 L197.70,280.48 L198.70,280.29 L199.70,280.10 L200.70,279.92 L201.70,279.73 L202.70,279.54 L203.70,279.36 L204.70,279.17 L205.70,278.99 L206.70,278.81 L207.70,278.62 L208.70,278.44 L209.70,278.26 L210.70,278.08 L211.70,277.90 L212.70,277.72 L213.70,277.54 L214.70,277.36 L215.70,277.18 L216.70,277.01 L217.70,276.83 L218.70,276.65 L219.70,276.47 L220.70,276.30 L221.70,276.12 L222.70,275.94 L223.70,275.77 L224.70,275.59 L225.70,275.41 L226.70,275.24 L227.70,275.06 L228.70,274.88 L229.70,274.71 L230.70,274.53 L231.70,274.35 L232.70,274.18 L233.70,274.00 L234.70,273.82 L235.70,273.64 L236.70,273.47 L237.70,273.29 L238.70,273.11 L239.70,272.93 L240.70,272.75 L241.70,272.58 L242.70,272.40 L243.70,272.22 L244.70,272.04 L245.70,271.86 L246.70,271.68 L247.70,271.50 L248.70,271.33 L249.70,271.15 L250.70,270.97 L251.70,270.79 L252.70,270.61 L253.70,270.44 L254.70,270.26 L255.70,270.08 L256.70,269.91 L257.70,269.73 L258.70,269.56 L259.70,269.38 L260.70,269.21 L261.70,269.03 L262.70,268.86 L263.70,268.69 L264.70,268.51 L265.70,268.34 L266.70,268.17 L267.70,268.00 L268.70,267.83 L269.70,267.66 L270.70,267.49 L271.70,267.32 L272.70,267.16 L273.70,266.99 L274.70,266.83 L275.70,266.66 L276.70,266.50 L277.70,266.34 L278.70,266.18 L279.70,266.02 L280.70,265.86 L281.70,265.70 L282.70,265.54 L283.70,265.39 L284.70,265.23 L285.70,265.08 L286.70,264.93 L287.70,264.78 L288.70,264.63 L289.70,264.48 L290.70,264.33 L291.70,264.19 L292.70,264.05 L293.70,263.90 L294.70,263.76 L295.70,263.62 L296.70,263.49 L297.70,263.35 L298.70,263.21 L299.70,263.08 L300.70,262.95 L301.70,262.82 L302.70,262.69 L303.70,262.57 L304.70,262.44 L305.70,262.32 L306.70,262.20 L307.70,262.08 L308.70,261.96 L309.70,261.85 L310.70,261.74 L311.70,261.62 L312.70,261.52 L313.70,261.41 L314.70,261.30 L315.70,261.20 L316.70,261.10 L317.70,261.00 L318.70,260.91 L319.70,260.81 L320.70,260.72 L321.70,260.63 L322.70,260.54 L323.70,260.46 L324.70,260.38 L325.70,260.29 L326.70,260.22 L327.70,260.14 L328.70,260.07 L329.70,260.00 L330.70,259.93 L331.70,259.87 L332.70,259.80 L333.00,259.79 L333.00,259.80 L335.00,260.20 L336.60,261.50 L339.00,265.00 L342.30,273.70 L343.70,277.50 L348.00,286.50 L352.30,289.70 L356.00,291.20 L356.00,291.20 L357.00,291.33 L358.00,291.45 L359.00,291.58 L360.00,291.71 L361.00,291.85 L362.00,291.98 L363.00,292.11 L364.00,292.25 L365.00,292.38 L366.00,292.52 L367.00,292.66 L368.00,292.80 L369.00,292.94 L370.00,293.08 L371.00,293.22 L372.00,293.36 L373.00,293.50 L374.00,293.64 L375.00,293.78 L376.00,293.92 L377.00,294.06 L378.00,294.20 L379.00,294.34 L380.00,294.48 L381.00,294.62 L382.00,294.76 L383.00,294.90 L384.00,295.04 L385.00,295.17 L386.00,295.31 L387.00,295.44 L388.00,295.57 L389.00,295.71 L390.00,295.84 L391.00,295.96 L392.00,296.09 L393.00,296.22 L394.00,296.34 L395.00,296.46 L396.00,296.58 L397.00,296.70 L398.00,296.82 L399.00,296.93 L400.00,297.04 L401.00,297.15 L402.00,297.25 L403.00,297.36 L404.00,297.46 L405.00,297.56 L406.00,297.65 L407.00,297.74 L408.00,297.83 L409.00,297.92 L410.00,298.00 L411.00,298.08 L412.00,298.15 L413.00,298.23 L414.00,298.29 L415.00,298.36 L416.00,298.42 L417.00,298.47 L418.00,298.53 L419.00,298.57 L420.00,298.62 L421.00,298.66 L422.00,298.69 L423.00,298.72 L424.00,298.75 L425.00,298.77 L426.00,298.79 L427.00,298.80 L428.00,298.80 L429.00,298.80 L430.00,298.80 L430.00,298.80 L437.50,298.00 L443.75,296.90 L450.00,294.80 L456.00,292.60 L462.00,293.50 L468.00,293.20 L474.50,296.20 L480.80,300.20 L487.20,303.40 L493.60,306.80" stroke-width="1.9" stroke-dasharray="9.9 4.3" stroke-linejoin="round"/>
<path d="M118.70,480.69 L119.70,480.34 L120.70,480.00 L121.70,479.66 L122.70,479.32 L123.70,478.99 L124.70,478.66 L125.70,478.34 L126.70,478.02 L127.70,477.71 L128.70,477.40 L129.70,477.09 L130.70,476.79 L131.70,476.49 L132.70,476.20 L133.70,475.91 L134.70,475.63 L135.70,475.34 L136.70,475.07 L137.70,474.79 L138.70,474.52 L139.70,474.26 L140.70,473.99 L141.70,473.73 L142.70,473.48 L143.70,473.23 L144.70,472.98 L145.70,472.73 L146.70,472.49 L147.70,472.25 L148.70,472.02 L149.70,471.79 L150.70,471.56 L151.70,471.33 L152.70,471.11 L153.70,470.89 L154.70,470.67 L155.70,470.46 L156.70,470.25 L157.70,470.05 L158.70,469.84 L159.70,469.64 L160.70,469.44 L161.70,469.25 L162.70,469.05 L163.70,468.86 L164.70,468.68 L165.70,468.49 L166.70,468.31 L167.70,468.13 L168.70,467.95 L169.70,467.78 L170.70,467.60 L171.70,467.43 L172.70,467.26 L173.70,467.10 L174.70,466.94 L175.70,466.77 L176.70,466.62 L177.70,466.46 L178.70,466.30 L179.70,466.15 L180.70,466.00 L181.70,465.85 L182.70,465.70 L183.70,465.56 L184.70,465.41 L185.70,465.27 L186.70,465.13 L187.70,464.99 L188.70,464.85 L189.70,464.72 L190.70,464.58 L191.70,464.45 L192.70,464.32 L193.70,464.19 L194.70,464.06 L195.70,463.93 L196.70,463.81 L197.70,463.68 L198.70,463.56 L199.70,463.44 L200.70,463.32 L201.70,463.20 L202.70,463.08 L203.70,462.96 L204.70,462.84 L205.70,462.72 L206.70,462.61 L207.70,462.49 L208.70,462.38 L209.70,462.27 L210.70,462.15 L211.70,462.04 L212.70,461.93 L213.70,461.82 L214.70,461.71 L215.70,461.60 L216.70,461.49 L217.70,461.38 L218.70,461.27 L219.70,461.16 L220.70,461.05 L221.70,460.94 L222.70,460.83 L223.70,460.72 L224.70,460.62 L225.70,460.51 L226.70,460.40 L227.70,460.29 L228.70,460.18 L229.70,460.07 L230.70,459.96 L231.70,459.85 L232.70,459.74 L233.70,459.63 L234.70,459.52 L235.70,459.41 L236.70,459.30 L237.70,459.19 L238.70,459.08 L239.70,458.96 L240.70,458.85 L241.70,458.74 L242.70,458.63 L243.70,458.51 L244.70,458.40 L245.70,458.28 L246.70,458.17 L247.70,458.05 L248.70,457.94 L249.70,457.82 L250.70,457.71 L251.70,457.59 L252.70,457.48 L253.70,457.36 L254.70,457.24 L255.70,457.13 L256.70,457.01 L257.70,456.89 L258.70,456.78 L259.70,456.66 L260.70,456.54 L261.70,456.43 L262.70,456.31 L263.70,456.20 L264.70,456.08 L265.70,455.96 L266.70,455.85 L267.70,455.73 L268.70,455.61 L269.70,455.50 L270.70,455.38 L271.70,455.27 L272.70,455.15 L273.70,455.04 L274.70,454.92 L275.70,454.81 L276.70,454.69 L277.70,454.58 L278.70,454.47 L279.70,454.35 L280.70,454.24 L281.70,454.13 L282.70,454.02 L283.70,453.90 L284.70,453.79 L285.70,453.68 L286.70,453.57 L287.70,453.46 L288.70,453.35 L289.70,453.24 L290.70,453.13 L291.70,453.03 L292.70,452.92 L293.70,452.81 L294.70,452.71 L295.70,452.60 L296.70,452.50 L297.70,452.39 L298.70,452.29 L299.70,452.18 L300.70,452.08 L301.70,451.98 L302.70,451.88 L303.70,451.78 L304.70,451.68 L305.70,451.58 L306.70,451.48 L307.70,451.38 L308.70,451.28 L309.70,451.17 L310.70,451.07 L311.70,450.96 L312.70,450.86 L313.70,450.75 L314.70,450.64 L315.70,450.52 L316.70,450.40 L317.70,450.28 L318.70,450.16 L319.70,450.03 L320.70,449.90 L321.70,449.77 L322.70,449.63 L323.70,449.49 L324.70,449.34 L325.70,449.18 L326.70,449.02 L327.70,448.86 L328.70,448.69 L329.70,448.51 L330.70,448.33 L331.70,448.14 L332.70,447.95 L333.70,447.74 L334.70,447.53 L335.70,447.31 L336.70,447.09 L337.70,446.85 L338.70,446.61 L339.10,446.51 L339.10,446.50 L340.50,468.00 L341.80,480.00 L342.60,489.00 L343.30,495.00 L346.30,502.60 L348.70,507.30 L352.80,511.10 L356.10,512.10 L356.10,512.10 L357.10,512.27 L358.10,512.45 L359.10,512.62 L360.10,512.79 L361.10,512.96 L362.10,513.13 L363.10,513.30 L364.10,513.47 L365.10,513.64 L366.10,513.81 L367.10,513.98 L368.10,514.15 L369.10,514.31 L370.10,514.48 L371.10,514.65 L372.10,514.81 L373.10,514.98 L374.10,515.14 L375.10,515.31 L376.10,515.47 L377.10,515.63 L378.10,515.79 L379.10,515.95 L380.10,516.11 L381.10,516.27 L382.10,516.43 L383.10,516.59 L384.10,516.75 L385.10,516.91 L386.10,517.06 L387.10,517.22 L388.10,517.37 L389.10,517.53 L390.10,517.68 L391.10,517.83 L392.10,517.99 L393.10,518.14 L394.10,518.29 L395.10,518.44 L396.10,518.59 L397.10,518.74 L398.10,518.88 L399.10,519.03 L400.10,519.18 L401.10,519.32 L402.10,519.46 L403.10,519.61 L404.10,519.75 L405.10,519.89 L406.10,520.03 L407.10,520.17 L408.10,520.31 L409.10,520.45 L410.10,520.59 L411.10,520.72 L412.10,520.86 L413.10,520.99 L414.10,521.13 L415.10,521.26 L416.10,521.39 L417.10,521.52 L418.10,521.65 L419.10,521.78 L420.10,521.91 L420.80,522.00 L420.80,522.00 L426.70,522.00 L432.10,521.70 L437.50,523.50 L443.60,528.30 L450.00,525.60 L455.70,532.00 L461.70,545.00 L468.30,545.00 L474.40,536.80 L480.80,531.10 L488.00,535.60 L493.70,533.40" stroke-width="1.9" stroke-dasharray="9.9 4.3" stroke-linejoin="round"/>
<path d="M118.70,575.29 L119.70,575.20 L120.70,575.11 L121.70,575.02 L122.70,574.94 L123.70,574.85 L124.70,574.76 L125.70,574.68 L126.70,574.59 L127.70,574.51 L128.70,574.43 L129.70,574.35 L130.70,574.27 L131.70,574.19 L132.70,574.11 L133.70,574.03 L134.70,573.95 L135.70,573.88 L136.70,573.80 L137.70,573.73 L138.70,573.66 L139.70,573.58 L140.70,573.51 L141.70,573.44 L142.70,573.37 L143.70,573.30 L144.70,573.23 L145.70,573.16 L146.70,573.10 L147.70,573.03 L148.70,572.96 L149.70,572.90 L150.70,572.83 L151.70,572.77 L152.70,572.71 L153.70,572.65 L154.70,572.58 L155.70,572.52 L156.70,572.46 L157.70,572.40 L158.70,572.35 L159.70,572.29 L160.70,572.23 L161.70,572.17 L162.70,572.12 L163.70,572.06 L164.70,572.01 L165.70,571.95 L166.70,571.90 L167.70,571.84 L168.70,571.79 L169.70,571.74 L170.70,571.69 L171.70,571.64 L172.70,571.59 L173.70,571.54 L174.70,571.49 L175.70,571.44 L176.70,571.39 L177.70,571.34 L178.70,571.30 L179.70,571.25 L180.70,571.20 L181.70,571.16 L182.70,571.11 L183.70,571.06 L184.70,571.02 L185.70,570.98 L186.70,570.93 L187.70,570.89 L188.70,570.85 L189.70,570.80 L190.70,570.76 L191.70,570.72 L192.70,570.68 L193.70,570.64 L194.70,570.60 L195.70,570.56 L196.70,570.51 L197.70,570.48 L198.70,570.44 L199.70,570.40 L200.70,570.36 L201.70,570.32 L202.70,570.28 L203.70,570.24 L204.70,570.20 L205.70,570.17 L206.70,570.13 L207.70,570.09 L208.70,570.06 L209.70,570.02 L210.70,569.98 L211.70,569.95 L212.70,569.91 L213.70,569.88 L214.70,569.84 L215.70,569.80 L216.70,569.77 L217.70,569.73 L218.70,569.70 L219.70,569.66 L220.70,569.63 L221.70,569.60 L222.70,569.56 L223.70,569.53 L224.70,569.49 L225.70,569.46 L226.70,569.42 L227.70,569.39 L228.70,569.36 L229.70,569.32 L230.70,569.29 L231.70,569.26 L232.70,569.22 L233.70,569.19 L234.70,569.15 L235.70,569.12 L236.70,569.09 L237.70,569.05 L238.70,569.02 L239.70,568.99 L240.70,568.95 L241.70,568.92 L242.70,568.89 L243.70,568.85 L244.70,568.82 L245.70,568.79 L246.70,568.75 L247.70,568.72 L248.70,568.69 L249.70,568.65 L250.70,568.62 L251.70,568.59 L252.70,568.56 L253.70,568.53 L254.70,568.49 L255.70,568.46 L256.70,568.43 L257.70,568.40 L258.70,568.37 L259.70,568.34 L260.70,568.31 L261.70,568.28 L262.70,568.25 L263.70,568.22 L264.70,568.19 L265.70,568.16 L266.70,568.13 L267.70,568.10 L268.70,568.07 L269.70,568.05 L270.70,568.02 L271.70,567.99 L272.70,567.97 L273.70,567.94 L274.70,567.91 L275.70,567.89 L276.70,567.86 L277.70,567.84 L278.70,567.81 L279.70,567.79 L280.70,567.77 L281.70,567.74 L282.70,567.72 L283.70,567.70 L284.70,567.68 L285.70,567.66 L286.70,567.64 L287.70,567.62 L288.70,567.60 L289.70,567.58 L290.70,567.56 L291.70,567.54 L292.70,567.53 L293.70,567.51 L294.70,567.49 L295.70,567.48 L296.70,567.46 L297.70,567.45 L298.70,567.44 L299.70,567.42 L300.70,567.41 L301.70,567.40 L302.70,567.39 L303.70,567.38 L304.70,567.37 L305.70,567.36 L306.70,567.35 L307.70,567.35 L308.70,567.34 L309.70,567.34 L310.70,567.33 L311.70,567.33 L312.70,567.32 L313.70,567.32 L314.70,567.32 L315.70,567.32 L316.70,567.32 L317.70,567.32 L318.70,567.32 L319.70,567.32 L320.70,567.32 L321.70,567.33 L322.70,567.33 L323.70,567.34 L324.70,567.35 L325.70,567.35 L326.70,567.36 L327.70,567.37 L328.70,567.38 L329.70,567.39 L330.70,567.40 L331.70,567.42 L332.70,567.43 L333.70,567.45 L334.70,567.46 L335.70,567.48 L335.70,567.50 L338.20,569.10 L339.30,575.70 L340.30,583.90 L341.30,591.10 L342.30,599.20 L342.80,605.20 L344.40,608.50 L347.40,611.00 L352.60,612.60 L357.00,613.30 L357.00,613.30 L358.00,613.40 L359.00,613.50 L360.00,613.60 L361.00,613.70 L362.00,613.79 L363.00,613.88 L364.00,613.96 L365.00,614.05 L366.00,614.13 L367.00,614.21 L368.00,614.29 L369.00,614.36 L370.00,614.44 L371.00,614.51 L372.00,614.58 L373.00,614.64 L374.00,614.71 L375.00,614.77 L376.00,614.83 L377.00,614.89 L378.00,614.94 L379.00,615.00 L380.00,615.05 L381.00,615.10 L382.00,615.15 L383.00,615.20 L384.00,615.24 L385.00,615.28 L386.00,615.33 L387.00,615.37 L388.00,615.41 L389.00,615.44 L390.00,615.48 L391.00,615.51 L392.00,615.55 L393.00,615.58 L394.00,615.61 L395.00,615.64 L396.00,615.67 L397.00,615.69 L398.00,615.72 L399.00,615.75 L400.00,615.77 L401.00,615.79 L402.00,615.81 L403.00,615.84 L404.00,615.86 L405.00,615.87 L406.00,615.89 L407.00,615.91 L408.00,615.93 L409.00,615.94 L410.00,615.96 L411.00,615.97 L412.00,615.99 L413.00,616.00 L414.00,616.02 L415.00,616.03 L416.00,616.04 L417.00,616.05 L418.00,616.07 L419.00,616.08 L420.00,616.09 L421.00,616.10 L422.00,616.11 L423.00,616.12 L424.00,616.13 L425.00,616.15 L426.00,616.16 L427.00,616.17 L428.00,616.18 L429.00,616.19 L430.00,616.20 L430.00,616.20 L437.00,615.60 L444.00,613.60 L451.00,610.90 L458.00,607.40 L463.80,606.00 L467.90,605.80 L472.00,608.30 L476.70,612.10 L481.30,614.80 L487.20,616.30 L493.60,618.30" stroke-width="1.9" stroke-dasharray="9.9 4.3" stroke-linejoin="round"/>
</g>
<g>
<text transform="translate(50.08,352.50) scale(0.72,1)" x="-6.07" font-size="23.0">1</text>
<text x="55.51" y="352.50" font-size="23.0">0</text>
<text x="66.51" y="339.10" font-size="15.6">-</text>
<text x="71.10" y="339.10" font-size="15.6">2</text>
<text transform="translate(50.08,273.50) scale(0.72,1)" x="-6.07" font-size="23.0">1</text>
<text x="55.51" y="273.50" font-size="23.0">0</text>
<text x="66.51" y="260.10" font-size="15.6">-</text>
<text transform="translate(75.22,260.10) scale(0.72,1)" x="-4.12" font-size="15.6">1</text>
<text transform="translate(54.67,194.50) scale(0.72,1)" x="-6.07" font-size="23.0">1</text>
<text x="60.10" y="194.50" font-size="23.0">0</text>
<text x="71.10" y="181.10" font-size="15.6">0</text>
<text transform="translate(54.67,115.50) scale(0.72,1)" x="-6.07" font-size="23.0">1</text>
<text x="60.10" y="115.50" font-size="23.0">0</text>
<text transform="translate(75.22,102.10) scale(0.72,1)" x="-4.12" font-size="15.6">1</text>
<text transform="translate(54.67,36.50) scale(0.72,1)" x="-6.07" font-size="23.0">1</text>
<text x="60.10" y="36.50" font-size="23.0">0</text>
<text x="71.10" y="23.10" font-size="15.6">2</text>
<text transform="translate(50.08,692.50) scale(0.72,1)" x="-6.07" font-size="23.0">1</text>
<text x="55.51" y="692.50" font-size="23.0">0</text>
<text x="66.51" y="678.60" font-size="15.6">-</text>
<text x="71.10" y="678.60" font-size="15.6">2</text>
<text transform="translate(50.08,613.50) scale(0.72,1)" x="-6.07" font-size="23.0">1</text>
<text x="55.51" y="613.50" font-size="23.0">0</text>
<text x="66.51" y="599.60" font-size="15.6">-</text>
<text transform="translate(75.22,599.60) scale(0.72,1)" x="-4.12" font-size="15.6">1</text>
<text transform="translate(54.67,534.50) scale(0.72,1)" x="-6.07" font-size="23.0">1</text>
<text x="60.10" y="534.50" font-size="23.0">0</text>
<text x="71.10" y="520.60" font-size="15.6">0</text>
<text transform="translate(54.67,455.50) scale(0.72,1)" x="-6.07" font-size="23.0">1</text>
<text x="60.10" y="455.50" font-size="23.0">0</text>
<text transform="translate(75.22,441.60) scale(0.72,1)" x="-4.12" font-size="15.6">1</text>
<text transform="translate(54.67,376.50) scale(0.72,1)" x="-6.07" font-size="23.0">1</text>
<text x="60.10" y="376.50" font-size="23.0">0</text>
<text x="71.10" y="362.60" font-size="15.6">2</text>
<text x="79.65" y="701.90" font-size="23.0">0</text>
<text x="239.20" y="701.90" font-size="23.0">5</text>
<text x="250.70" y="701.90" font-size="23.0">0</text>
<text transform="translate(404.82,701.90) scale(0.72,1)" x="-6.07" font-size="23.0">1</text>
<text x="410.25" y="701.90" font-size="23.0">0</text>
<text x="421.75" y="701.90" font-size="23.0">0</text>
<text transform="translate(570.12,701.90) scale(0.72,1)" x="-6.07" font-size="23.0">1</text>
<text x="575.55" y="701.90" font-size="23.0">5</text>
<text x="587.05" y="701.90" font-size="23.0">0</text>
<text x="301.6" y="725.8" font-size="26.5" font-style="italic">r</text>
<text x="312.7" y="725.8" font-size="26.5">,</text>
<text x="326.3" y="725.8" font-size="26.5">AU</text>
<text x="497.9" y="56.4" font-size="22">LZP</text>
<text x="497.6" y="395.8" font-size="22">NLGC</text>
<text transform="translate(266.70,84.00) scale(1.06,1)" font-size="23.2">&#955;</text>
<text transform="translate(266.70,240.70) scale(1.06,1)" font-size="23.2">&#955;</text>
<text transform="translate(266.70,435.30) scale(1.06,1)" font-size="23.2">&#955;</text>
<text transform="translate(266.70,598.60) scale(1.06,1)" font-size="23.2">&#955;</text>
<g transform="translate(23.4,226.60) rotate(-90)">
<text transform="translate(-0.76,0) scale(1.06,1)" font-size="27.2">&#955;</text>
<line x1="16.0" y1="-2.5" x2="16.0" y2="15.5" stroke="#000" stroke-width="1.3"/>
<line x1="19.3" y1="-2.5" x2="19.3" y2="15.5" stroke="#000" stroke-width="1.3"/>
<text x="21.6" y="0" font-size="26.5">,</text>
<text transform="translate(34.3,0) scale(1.06,1)" font-size="27.2">&#955;</text>
<line x1="49.7" y1="9.7" x2="61.2" y2="9.7" stroke="#000" stroke-width="1.25"/>
<line x1="55.2" y1="-2.3" x2="55.2" y2="9.7" stroke="#000" stroke-width="1.25"/>
<text x="61.4" y="0" font-size="26.5">,</text>
<text x="74.8" y="0" font-size="26.5">AU</text>
</g>
<g transform="translate(23.4,566.60) rotate(-90)">
<text transform="translate(-0.76,0) scale(1.06,1)" font-size="27.2">&#955;</text>
<line x1="16.0" y1="-2.5" x2="16.0" y2="15.5" stroke="#000" stroke-width="1.3"/>
<line x1="19.3" y1="-2.5" x2="19.3" y2="15.5" stroke="#000" stroke-width="1.3"/>
<text x="21.6" y="0" font-size="26.5">,</text>
<text transform="translate(34.3,0) scale(1.06,1)" font-size="27.2">&#955;</text>
<line x1="49.7" y1="9.7" x2="61.2" y2="9.7" stroke="#000" stroke-width="1.25"/>
<line x1="55.2" y1="-2.3" x2="55.2" y2="9.7" stroke="#000" stroke-width="1.25"/>
<text x="61.4" y="0" font-size="26.5">,</text>
<text x="74.8" y="0" font-size="26.5">AU</text>
</g>
<g stroke="#000"><line x1="280.55" y1="82.0" x2="280.55" y2="97.2" stroke-width="1.3"/><line x1="283.65" y1="82.0" x2="283.65" y2="97.2" stroke-width="1.3"/><line x1="284.2" y1="239.2" x2="284.2" y2="249.0" stroke-width="1.2"/><line x1="279.2" y1="249.0" x2="289.2" y2="249.0" stroke-width="1.2"/><line x1="280.55" y1="433.7" x2="280.55" y2="448.9" stroke-width="1.3"/><line x1="283.65" y1="433.7" x2="283.65" y2="448.9" stroke-width="1.3"/><line x1="284.2" y1="596.7" x2="284.2" y2="607.3" stroke-width="1.2"/><line x1="279.2" y1="607.3" x2="289.2" y2="607.3" stroke-width="1.2"/></g>
</g>
</svg>
</body></html>
